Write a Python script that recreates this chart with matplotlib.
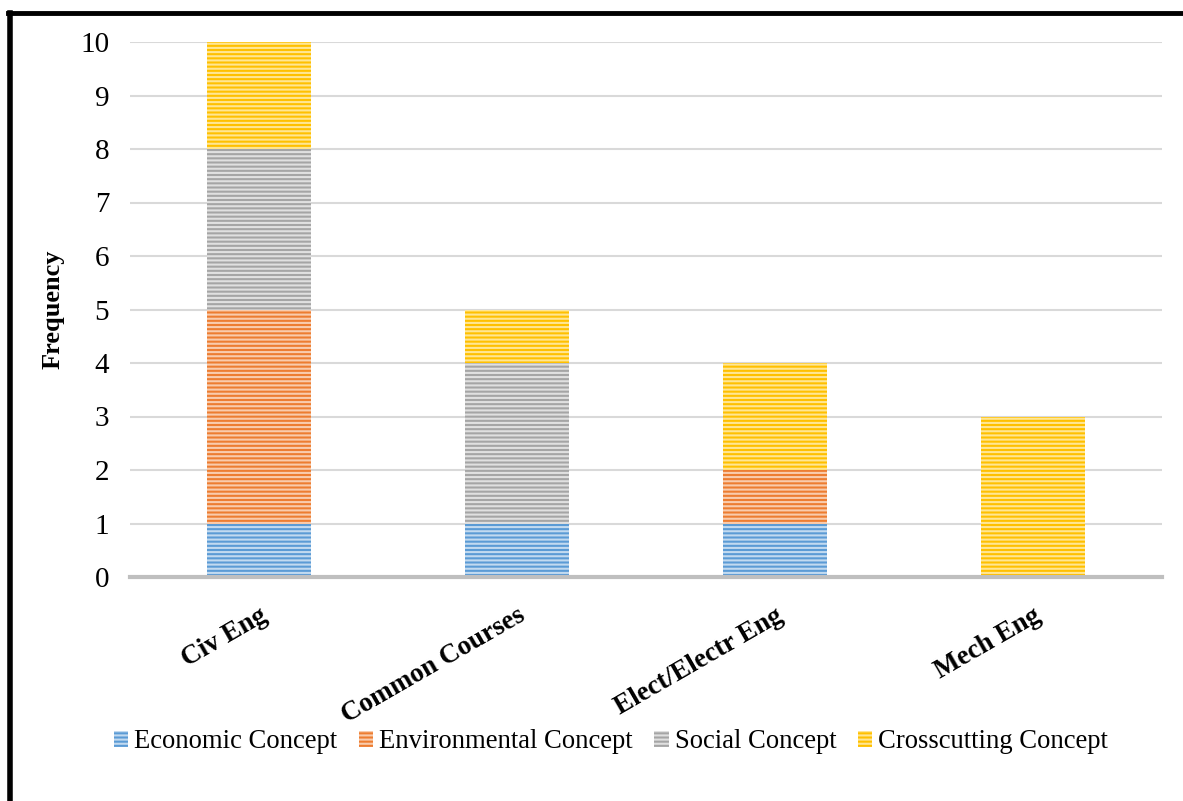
import matplotlib
matplotlib.use("Agg")
import matplotlib.pyplot as plt
from matplotlib.lines import Line2D
import numpy as np

plt.rcParams['font.family'] = ['Liberation Serif', 'DejaVu Serif']
plt.rcParams['hatch.linewidth'] = 1.5

departments = ["Civ Eng", "Common Courses", "Elect/Electr Eng", "Mech Eng"]
economic = [1, 1, 1, 0]
environmental = [4, 0, 1, 0]
social = [3, 3, 0, 0]
crosscutting = [2, 1, 2, 3]

series_names = ["Economic Concept", "Environmental Concept", "Social Concept", "Crosscutting Concept"]
series_values = [economic, environmental, social, crosscutting]
face_colors = ["#5B9BD5", "#ED7D31", "#A5A5A5", "#FFC000"]
stripe_colors = ["#C2DAF0", "#F9CCAD", "#E0E0E0", "#FFE694"]

fig = plt.figure(figsize=(11.83, 8.01), dpi=100)
ax = fig.add_axes([130 / 1183, 1 - 577 / 801, 1032 / 1183, 535 / 801])

x = np.arange(len(departments))
bottom = np.zeros(len(departments))
handles = []
for name, vals, fc, sc in zip(series_names, series_values, face_colors, stripe_colors):
    vals = np.array(vals, dtype=float)
    bars = ax.bar(x, vals, width=0.40, bottom=bottom, color=fc, edgecolor=sc,
                  linewidth=0, hatch="----", zorder=2, label=name)
    bottom += vals
    handles.append(bars)

ax.set_xlim(-0.5, 3.5)
ax.set_ylim(0, 10)
ax.set_yticks(range(0, 11))
ax.yaxis.grid(True, color="#D9D9D9", linewidth=1.5, zorder=0)
ax.set_axisbelow(True)
for side in ["top", "right", "left"]:
    ax.spines[side].set_visible(False)
ax.spines["bottom"].set_color("#BFBFBF")
ax.spines["bottom"].set_linewidth(3)
ax.spines["bottom"].set_zorder(3)
ax.tick_params(axis="both", length=0)
ax.tick_params(axis="y", labelsize=21, pad=15)
ax.set_xticks(x)
ax.set_xticklabels(departments, fontsize=19.5, fontweight="bold", rotation=30,
                   ha="right", rotation_mode="anchor")
ax.tick_params(axis="x", pad=19)
ax.set_ylabel("Frequency", fontsize=19, fontweight="bold", labelpad=11)

fig.legend(handles=handles, labels=series_names, loc="center",
           bbox_to_anchor=(611 / 1183, 1 - 742 / 801), ncol=4, frameon=False,
           fontsize=19.2, handlelength=0.55, handleheight=0.55, handletextpad=0.22,
           columnspacing=0.8)

# frame around the figure
fig.add_artist(Line2D([9.5 / 1183, 9.5 / 1183], [0, 1 - 13 / 801],
                      transform=fig.transFigure, color="black", linewidth=4))
fig.add_artist(Line2D([7.5 / 1183, 1], [1 - 13 / 801, 1 - 13 / 801],
                      transform=fig.transFigure, color="black", linewidth=3.5))

fig.savefig("out.png", dpi=100)
